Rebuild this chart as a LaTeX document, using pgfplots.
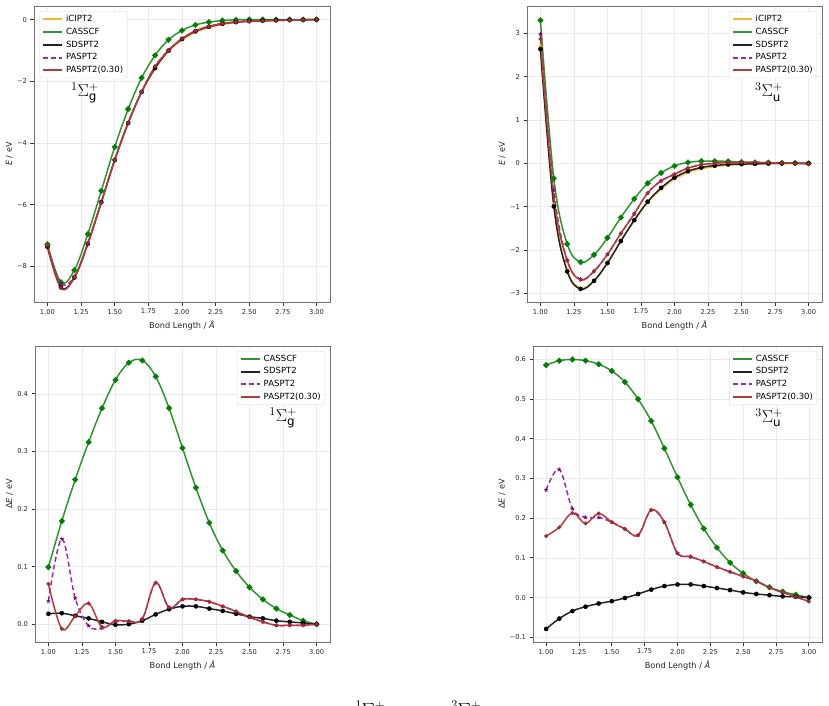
\RequirePackage{fix-cm}
\documentclass[border=0pt]{standalone}
\usepackage{fontspec}
\setmainfont{DejaVu Sans}
\usepackage{pgfplots}
\usepackage{pgfplotstable}
\pgfplotsset{compat=1.18}

\definecolor{icL}{RGB}{250,180,50}
\definecolor{icM}{RGB}{255,165,0}
\definecolor{casL}{RGB}{45,150,45}
\definecolor{casM}{RGB}{0,128,0}
\definecolor{sdL}{RGB}{35,35,35}
\definecolor{paL}{RGB}{155,45,155}
\definecolor{paM}{RGB}{128,0,128}
\definecolor{prL}{RGB}{180,60,60}
\definecolor{prM}{RGB}{165,42,42}

\pgfplotstableread{
x iC CAS SD PA PA30
1.0 -7.38 -7.28 -7.362 -7.34 -7.31
1.1 -8.69 -8.51 -8.671 -8.542 -8.698
1.2 -8.37 -8.12 -8.356 -8.325 -8.356
1.3 -7.27 -6.95 -7.26 -7.273 -7.234
1.4 -5.92 -5.55 -5.916 -5.927 -5.925
1.5 -4.55 -4.13 -4.551 -4.546 -4.544
1.6 -3.35 -2.90 -3.35 -3.345 -3.345
1.7 -2.35 -1.89 -2.344 -2.341 -2.341
1.8 -1.59 -1.16 -1.573 -1.518 -1.518
1.9 -1.03 -0.655 -1.004 -1.001 -1.001
2.0 -0.66 -0.354 -0.629 -0.617 -0.617
2.1 -0.41 -0.173 -0.379 -0.367 -0.367
2.2 -0.26 -0.084 -0.233 -0.221 -0.221
2.3 -0.16 -0.032 -0.137 -0.129 -0.129
2.4 -0.10 -0.008 -0.082 -0.078 -0.078
2.5 -0.064 0.0 -0.051 -0.052 -0.052
2.6 -0.043 0.0 -0.033 -0.039 -0.039
2.7 -0.027 0.0 -0.021 -0.029 -0.029
2.8 -0.016 0.0 -0.012 -0.018 -0.018
2.9 -0.006 0.0 -0.004 -0.008 -0.008
3.0 0.0 0.0 0.0 0.0 0.0
}\TEg

\pgfplotstableread{
x CAS SD PA PA30
1.0 0.099 0.018 0.040 0.070
1.1 0.179 0.019 0.148 -0.008
1.2 0.251 0.0145 0.045 0.014
1.3 0.316 0.010 -0.003 0.036
1.4 0.375 0.004 -0.007 -0.005
1.5 0.424 -0.001 0.004 0.006
1.6 0.454 0.000 0.005 0.005
1.7 0.458 0.006 0.009 0.009
1.8 0.430 0.017 0.072 0.072
1.9 0.375 0.026 0.029 0.029
2.0 0.306 0.031 0.043 0.043
2.1 0.237 0.031 0.043 0.043
2.2 0.176 0.027 0.039 0.039
2.3 0.128 0.023 0.031 0.031
2.4 0.092 0.018 0.022 0.022
2.5 0.064 0.013 0.012 0.012
2.6 0.043 0.010 0.004 0.004
2.7 0.027 0.006 -0.002 -0.002
2.8 0.016 0.004 -0.002 -0.002
2.9 0.006 0.002 -0.002 -0.002
3.0 0.0 0.0 0.0 0.0
}\TDg

\pgfplotstableread{
x iC CAS SD PA PA30
1.0 2.714 3.30 2.635 2.985 2.869
1.1 -0.942 -0.345 -0.995 -0.619 -0.765
1.2 -2.46 -1.86 -2.494 -2.236 -2.247
1.3 -2.877 -2.28 -2.900 -2.675 -2.690
1.4 -2.698 -2.11 -2.713 -2.496 -2.486
1.5 -2.291 -1.72 -2.300 -2.101 -2.101
1.6 -1.793 -1.25 -1.794 -1.620 -1.620
1.7 -1.32 -0.82 -1.311 -1.163 -1.163
1.8 -0.905 -0.46 -0.885 -0.684 -0.684
1.9 -0.596 -0.22 -0.567 -0.406 -0.406
2.0 -0.363 -0.06 -0.330 -0.251 -0.251
2.1 -0.214 0.02 -0.181 -0.111 -0.111
2.2 -0.124 0.05 -0.095 -0.033 -0.033
2.3 -0.076 0.05 -0.052 0.001 0.001
2.4 -0.043 0.045 -0.024 0.022 0.022
2.5 -0.031 0.03 -0.018 0.022 0.022
2.6 -0.021 0.02 -0.012 0.021 0.021
2.7 -0.011 0.015 -0.005 0.014 0.014
2.8 -0.005 0.01 -0.002 0.008 0.008
2.9 -0.002 0.005 0.0 0.0 0.0
3.0 0.0 0.0 0.0 -0.010 -0.010
}\TEu

\pgfplotstableread{
x CAS SD PA PA30
1.0 0.586 -0.079 0.271 0.155
1.1 0.597 -0.053 0.323 0.177
1.2 0.600 -0.034 0.224 0.213
1.3 0.597 -0.023 0.202 0.187
1.4 0.588 -0.015 0.202 0.212
1.5 0.571 -0.009 0.190 0.190
1.6 0.543 -0.001 0.173 0.173
1.7 0.500 0.009 0.157 0.157
1.8 0.445 0.020 0.221 0.221
1.9 0.376 0.029 0.190 0.190
2.0 0.303 0.033 0.112 0.112
2.1 0.234 0.033 0.103 0.103
2.2 0.174 0.029 0.091 0.091
2.3 0.126 0.024 0.077 0.077
2.4 0.088 0.019 0.065 0.065
2.5 0.061 0.013 0.053 0.053
2.6 0.041 0.009 0.042 0.042
2.7 0.026 0.006 0.025 0.025
2.8 0.015 0.003 0.013 0.013
2.9 0.007 0.002 0.002 0.002
3.0 0.0 0.0 -0.010 -0.010
}\TDu

\pgfplotsset{
  legend image code/.code={\draw[#1, line width=2pt] (0pt,0pt) -- (19pt,0pt);},
  myaxis/.style={
    scale only axis, height=296pt,
    xmin=0.9, xmax=3.1,
    xtick={1,1.25,1.5,1.75,2,2.25,2.5,2.75,3},
    xticklabels={1.00,1.25,1.50,1.75,2.00,2.25,2.50,2.75,3.00},
    grid=major,
    major grid style={line width=0.5pt, draw=black!8},
    axis line style={line width=0.9pt, draw=black!55},
    tick align=outside, tick pos=left,
    major tick length=3.5pt,
    every tick/.style={line width=0.8pt, black!80},
    tick label style={font=\fontsize{6.7}{8}\selectfont, text=black!85},
    label style={font=\fontsize{8.2}{10}\selectfont, text=black!85},
    ylabel shift=-2.5pt,
    xlabel={Bond Length / \textit{Å}},
    legend cell align=left,
    legend style={font=\fontsize{8.5}{10}\selectfont, draw=black!15, rounded corners=2pt,
      fill=white, inner xsep=2.5pt, inner ysep=2pt, row sep=2.1pt, column sep=1.5pt,
      nodes={inner sep=1.5pt}},
  },
  lic/.style={icL, line width=1.5pt},
  lcas/.style={casL, line width=1.5pt},
  lsd/.style={sdL, line width=1.5pt},
  lpa/.style={paL, line width=1.5pt, dash pattern=on 5pt off 3pt},
  lpr/.style={prL, line width=1.5pt},
  sm/.style={smooth, tension=0.6, forget plot},
  mic/.style={only marks, mark=triangle*, mark size=1.8pt, mark options={fill=icM, draw=icM}, forget plot},
  mcas/.style={only marks, mark=square*, mark size=2pt, mark options={rotate=45, fill=casM, draw=casM}, forget plot},
  msd/.style={only marks, mark=*, mark size=2.1pt, mark options={fill=black, draw=black}, forget plot},
  mpa/.style={only marks, mark=star, mark size=2pt, mark options={draw=paM, line width=0.8pt}, forget plot},
  mpr/.style={only marks, mark=*, mark size=1.8pt, mark options={fill=prM, draw=prM}, forget plot},
}

\begin{document}
\begin{tikzpicture}
\useasboundingbox (0,0) rectangle (829pt,705pt);

% top left
\begin{axis}[myaxis, at={(34pt,403pt)}, anchor=south west, width=296pt,
  ymin=-9.15, ymax=0.44, ytick={-8,-6,-4,-2,0}, yticklabels={−8,−6,−4,−2,0},
  ylabel={\textit{E} / eV},
  legend style={at={(0.018,0.983)}, anchor=north west}]
\addlegendimage{lic}\addlegendentry{iCIPT2}
\addlegendimage{lcas}\addlegendentry{CASSCF}
\addlegendimage{lsd}\addlegendentry{SDSPT2}
\addlegendimage{lpa}\addlegendentry{PASPT2}
\addlegendimage{lpr}\addlegendentry{PASPT2(0.30)}
\addplot[lic, sm] table[x=x,y=iC]{\TEg};
\addplot[mic] table[x=x,y=iC]{\TEg};
\addplot[lcas, sm] table[x=x,y=CAS]{\TEg};
\addplot[mcas] table[x=x,y=CAS]{\TEg};
\addplot[lsd, sm] table[x=x,y=SD]{\TEg};
\addplot[msd] table[x=x,y=SD]{\TEg};
\addplot[lpa, sm] table[x=x,y=PA]{\TEg};
\addplot[mpa] table[x=x,y=PA]{\TEg};
\addplot[lpr, sm] table[x=x,y=PA30]{\TEg};
\addplot[mpr] table[x=x,y=PA30]{\TEg};
\node[font=\fontsize{17}{19}\selectfont] at (rel axis cs:0.172,0.706) {$^{1}\Sigma_{\mathrm{g}}^{+}$};
\end{axis}

% top right
\begin{axis}[myaxis, at={(527pt,403pt)}, anchor=south west, width=295pt,
  ymin=-3.2, ymax=3.63, ytick={-3,-2,-1,0,1,2,3}, yticklabels={−3,−2,−1,0,1,2,3},
  ylabel={\textit{E} / eV},
  legend style={at={(0.983,0.983)}, anchor=north east}]
\addlegendimage{lic}\addlegendentry{iCIPT2}
\addlegendimage{lcas}\addlegendentry{CASSCF}
\addlegendimage{lsd}\addlegendentry{SDSPT2}
\addlegendimage{lpa}\addlegendentry{PASPT2}
\addlegendimage{lpr}\addlegendentry{PASPT2(0.30)}
\addplot[lic, sm] table[x=x,y=iC]{\TEu};
\addplot[mic] table[x=x,y=iC]{\TEu};
\addplot[lcas, sm] table[x=x,y=CAS]{\TEu};
\addplot[mcas] table[x=x,y=CAS]{\TEu};
\addplot[lsd, sm] table[x=x,y=SD]{\TEu};
\addplot[msd] table[x=x,y=SD]{\TEu};
\addplot[lpa, sm] table[x=x,y=PA]{\TEu};
\addplot[mpa] table[x=x,y=PA]{\TEu};
\addplot[lpr, sm] table[x=x,y=PA30]{\TEu};
\addplot[mpr] table[x=x,y=PA30]{\TEu};
\node[font=\fontsize{17}{19}\selectfont] at (rel axis cs:0.820,0.709) {$^{3}\Sigma_{\mathrm{u}}^{+}$};
\end{axis}

% bottom left
\begin{axis}[myaxis, at={(35pt,63pt)}, anchor=south west, width=295pt,
  ymin=-0.031, ymax=0.483, ytick={0,0.1,0.2,0.3,0.4}, yticklabels={0.0,0.1,0.2,0.3,0.4},
  ylabel={Δ\textit{E} / eV},
  legend style={at={(0.983,0.983)}, anchor=north east}]
\addlegendimage{lcas}\addlegendentry{CASSCF}
\addlegendimage{lsd}\addlegendentry{SDSPT2}
\addlegendimage{lpa}\addlegendentry{PASPT2}
\addlegendimage{lpr}\addlegendentry{PASPT2(0.30)}
\addplot[lcas, sm] table[x=x,y=CAS]{\TDg};
\addplot[mcas] table[x=x,y=CAS]{\TDg};
\addplot[lsd, sm] table[x=x,y=SD]{\TDg};
\addplot[msd] table[x=x,y=SD]{\TDg};
\addplot[lpa, sm] table[x=x,y=PA]{\TDg};
\addplot[mpa] table[x=x,y=PA]{\TDg};
\addplot[lpr, sm] table[x=x,y=PA30]{\TDg};
\addplot[mpr] table[x=x,y=PA30]{\TDg};
\node[font=\fontsize{17}{19}\selectfont] at (rel axis cs:0.841,0.757) {$^{1}\Sigma_{\mathrm{g}}^{+}$};
\end{axis}

% bottom right
\begin{axis}[myaxis, at={(533pt,63pt)}, anchor=south west, width=289pt,
  ymin=-0.112, ymax=0.634, ytick={-0.1,0,0.1,0.2,0.3,0.4,0.5,0.6}, yticklabels={−0.1,0.0,0.1,0.2,0.3,0.4,0.5,0.6},
  ylabel={Δ\textit{E} / eV},
  legend style={at={(0.983,0.983)}, anchor=north east}]
\addlegendimage{lcas}\addlegendentry{CASSCF}
\addlegendimage{lsd}\addlegendentry{SDSPT2}
\addlegendimage{lpa}\addlegendentry{PASPT2}
\addlegendimage{lpr}\addlegendentry{PASPT2(0.30)}
\addplot[lcas, sm] table[x=x,y=CAS]{\TDu};
\addplot[mcas] table[x=x,y=CAS]{\TDu};
\addplot[lsd, sm] table[x=x,y=SD]{\TDu};
\addplot[msd] table[x=x,y=SD]{\TDu};
\addplot[lpa, sm] table[x=x,y=PA]{\TDu};
\addplot[mpa] table[x=x,y=PA]{\TDu};
\addplot[lpr, sm] table[x=x,y=PA30]{\TDu};
\addplot[mpr] table[x=x,y=PA30]{\TDu};
\node[font=\fontsize{17}{19}\selectfont] at (rel axis cs:0.817,0.757) {$^{3}\Sigma_{\mathrm{u}}^{+}$};
\end{axis}

\node[anchor=north west, inner sep=0pt, font=\fontsize{19}{21}\selectfont] at (355pt,4.5pt) {$^{1}\Sigma_{\mathrm{g}}^{+}$};
\node[anchor=north west, inner sep=0pt, font=\fontsize{19}{21}\selectfont] at (451pt,4.5pt) {$^{3}\Sigma_{\mathrm{u}}^{+}$};
\end{tikzpicture}
\end{document}
